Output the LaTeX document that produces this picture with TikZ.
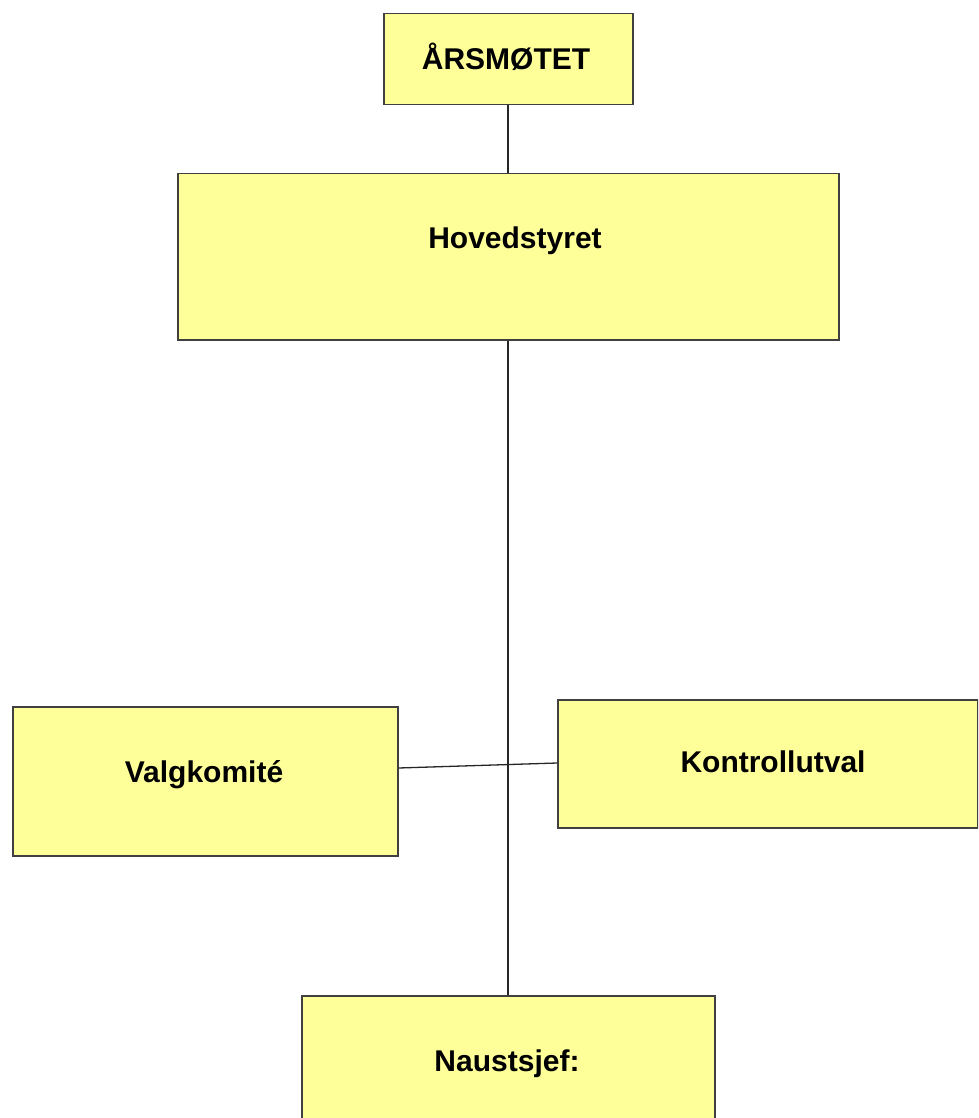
\documentclass[tikz,border=0pt]{standalone}
\usepackage{fontspec}
\setmainfont{Liberation Sans}
\definecolor{boxfill}{HTML}{FFFF99}
\definecolor{boxline}{HTML}{404040}
\begin{document}
\begin{tikzpicture}[x=1pt,y=-1pt,
  orgbox/.style={draw=boxline, fill=boxfill, line width=1.5pt, inner sep=0pt},
  lbl/.style={font=\fontsize{30}{35}\selectfont\bfseries, inner sep=0pt, anchor=base},
  conn/.style={draw=black!85, line width=1.3pt}]
\useasboundingbox (0,0) rectangle (978,1118);
\clip (0,0) rectangle (978,1118);
% boxes
\node[orgbox, minimum width=249pt, minimum height=91pt, anchor=north west] (aars) at (383,13) {};
\node[orgbox, minimum width=661pt, minimum height=166pt, anchor=north west] (hoved) at (177,173) {};
\node[orgbox, minimum width=385pt, minimum height=149pt, anchor=north west] (valg) at (12,706) {};
\node[orgbox, minimum width=420pt, minimum height=128pt, anchor=north west] (kontroll) at (557,699) {};
\node[orgbox, minimum width=413pt, minimum height=140pt, anchor=north west] (naust) at (301,995) {};
% labels
\node[lbl] (taars) at (506,70) {ÅRSMØTET};
\node[lbl] (thoved) at (515,248) {Hovedstyret};
\node[lbl] (tvalg) at (204,782) {Valgkomité};
\node[lbl] (tkontroll) at (773,772) {Kontrollutval};
\node[lbl] (tnaust) at (507,1071) {Naustsjef:};
% connectors
\coordinate (vtop) at (508,104);
\coordinate (vbot) at (508,995);
\draw[conn] (aars.south -| vtop) -- (hoved.north -| vtop);
\draw[conn] (hoved.south -| vtop) -- (naust.north -| vbot);
\draw[conn] (valg.east |- 0,768) -- (kontroll.west |- 0,763);
\end{tikzpicture}
\end{document}
